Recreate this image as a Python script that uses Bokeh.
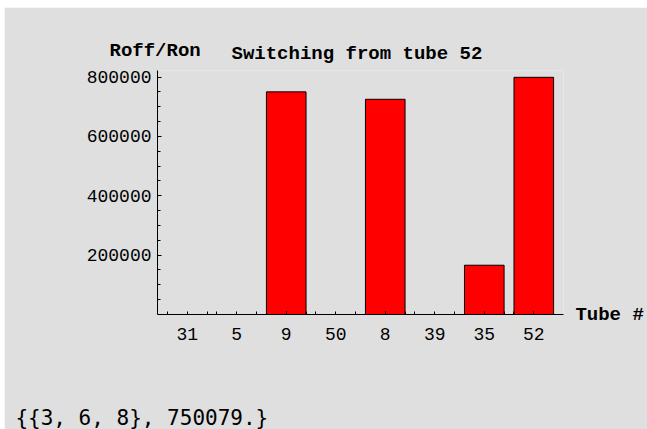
from bokeh.plotting import figure
from bokeh.models import Range1d, FixedTicker, Label, ColumnDataSource, Title
from bokeh.embed import file_html
from bokeh.resources import INLINE

tubes = ["31", "5", "9", "50", "8", "39", "35", "52"]
ratios = [0, 0, 750079, 0, 725000, 0, 166000, 799000]
y_ticks = [200000, 400000, 600000, 800000]
y_minor = [50000, 100000, 150000, 250000, 300000, 350000, 450000, 500000,
           550000, 650000, 700000, 750000]
title_text = "Switching from tube 52"
y_label_text = "Roff/Ron"
x_label_text = "Tube #"
result_text = "{{3, 6, 8}, 750079.}"

positions = list(range(1, len(tubes) + 1))
bar_w = 0.8
src = ColumnDataSource(dict(x=positions, top=ratios))

BG = "#dfdfdf"
p = figure(width=643, height=422, output_backend="svg", toolbar_location=None,
           x_range=Range1d(0.4, len(tubes) + 0.6), y_range=Range1d(0, 822000),
           min_border_left=153, min_border_right=84, min_border_top=63,
           min_border_bottom=115)
p.margin = (7, 0, 0, 4)
p.title.visible = False
p.background_fill_color = BG
p.border_fill_color = BG
p.outline_line_color = None
p.grid.visible = False

p.vbar(x="x", top="top", width=bar_w, bottom=0, source=src,
       fill_color="#ff0000", line_color="black", line_width=1)

mono = "Liberation Mono"

# x axis
xa = p.xaxis[0]
xa.ticker = FixedTicker(ticks=positions,
                        minor_ticks=[q + d for q in positions for d in (-bar_w / 2, bar_w / 2)])
xa.major_label_overrides = {q: t for q, t in zip(positions, tubes)}
xa.major_tick_in = 3
xa.major_tick_out = 0
xa.minor_tick_in = 3
xa.minor_tick_out = 0
xa.axis_line_color = "black"
xa.major_label_text_font = mono
xa.major_label_text_font_size = "18px"
xa.major_label_text_color = "black"
xa.major_label_standoff = 13

# y axis
ya = p.yaxis[0]
ya.ticker = FixedTicker(ticks=y_ticks, minor_ticks=y_minor)
ya.major_label_overrides = {v: str(v) for v in y_ticks}
ya.major_tick_in = 4
ya.major_tick_out = 0
ya.minor_tick_in = 3
ya.minor_tick_out = 0
ya.axis_line_color = "black"
ya.major_label_text_font = mono
ya.major_label_text_font_size = "18px"
ya.major_label_text_color = "black"
ya.major_label_standoff = 6

p.add_layout(Title(text=title_text, align="left", offset=74, standoff=12,
                   text_font=mono, text_font_size="19px", text_font_style="bold",
                   text_color="black"), "above")
# labels placed in side panels (data units) so they are not clipped to the frame
p.add_layout(Label(x=-0.57, y=887000, text=y_label_text, text_font=mono,
                   text_font_size="19px", text_font_style="bold",
                   text_baseline="middle", text_align="left", text_color="black"), "above")
p.add_layout(Label(x=8.84, y=-1500, text=x_label_text, text_font=mono,
                   text_font_size="19px", text_font_style="bold",
                   text_baseline="middle", text_align="left", text_color="black"), "right")
p.add_layout(Label(x=-2.47, y=-350000, text=result_text, text_font="DejaVu Sans Mono",
                   text_font_size="21px", text_baseline="middle",
                   text_align="left", text_color="black"), "below")

open("out.html", "w").write(file_html(p, INLINE))
